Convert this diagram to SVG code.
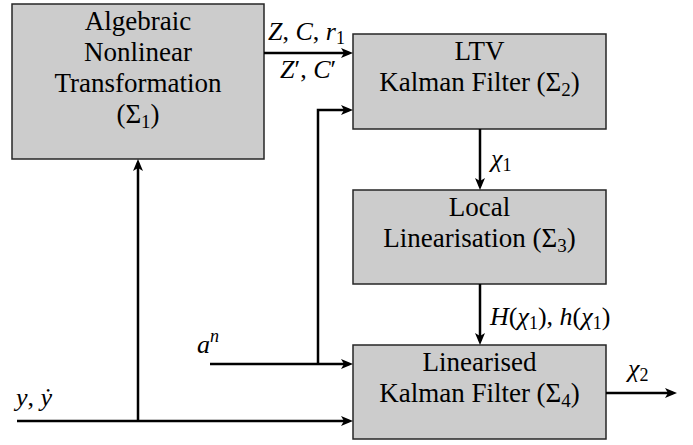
<svg xmlns="http://www.w3.org/2000/svg" width="693" height="445" viewBox="0 0 693 445">
<style>
.box{fill:#cccccc;stroke:#262626;stroke-width:1.5}
.t{font-family:"Liberation Serif","Times New Roman",serif;font-size:27px;fill:#000;text-anchor:middle}
.m{font-family:"Liberation Serif","Times New Roman",serif;font-size:26px;fill:#000;font-style:italic}
.up{font-style:normal}
.c{fill:none;stroke:#000;stroke-width:2.5}
</style>
<defs>
<marker id="ah" viewBox="0 -5 12 10" refX="8" refY="0" markerWidth="12" markerHeight="10" markerUnits="userSpaceOnUse" orient="auto">
<path d="M0,-5 L12,0 L0,5 L3,0 z" fill="#000"/>
</marker>
</defs>
<g id="sigma1">
<rect class="box" x="12" y="4" width="252" height="155"/>
<text class="t" x="138" y="30">Algebraic</text>
<text class="t" x="138" y="61">Nonlinear</text>
<text class="t" x="138" y="92">Transformation</text>
<text class="t" x="138" y="123">(Σ<tspan font-size="19" dy="5">1</tspan><tspan dy="-5">)</tspan></text>
</g>
<g id="sigma2">
<rect class="box" x="353" y="34" width="253" height="95"/>
<text class="t" x="479.5" y="60">LTV</text>
<text class="t" x="479.5" y="91">Kalman Filter (Σ<tspan font-size="19" dy="5">2</tspan><tspan dy="-5">)</tspan></text>
</g>
<g id="sigma3">
<rect class="box" x="353" y="190" width="253" height="94"/>
<text class="t" x="479.5" y="216">Local</text>
<text class="t" x="479.5" y="247">Linearisation (Σ<tspan font-size="19" dy="5">3</tspan><tspan dy="-5">)</tspan></text>
</g>
<g id="sigma4">
<rect class="box" x="353" y="345" width="253" height="94"/>
<text class="t" x="479.5" y="371">Linearised</text>
<text class="t" x="479.5" y="402">Kalman Filter (Σ<tspan font-size="19" dy="5">4</tspan><tspan dy="-5">)</tspan></text>
</g>
<g id="connectors">
<path class="c" d="M264,53 H349" marker-end="url(#ah)"/>
<path class="c" d="M210,364 H349" marker-end="url(#ah)"/>
<path class="c" d="M318,364 V110 H349" marker-end="url(#ah)"/>
<path class="c" d="M17,421 H349" marker-end="url(#ah)"/>
<path class="c" d="M138,421 V163" marker-end="url(#ah)"/>
<path class="c" d="M480,129 V186" marker-end="url(#ah)"/>
<path class="c" d="M480,284 V341" marker-end="url(#ah)"/>
<path class="c" d="M606,393 H673" marker-end="url(#ah)"/>
</g>
<g id="labels">
<text class="m" x="268" y="40">Z<tspan class="up">, </tspan>C<tspan class="up">, </tspan>r<tspan class="up" font-size="18" dy="4">1</tspan></text>
<text class="m" x="280" y="78">Z<tspan class="up">′, </tspan>C<tspan class="up">′</tspan></text>
<text class="m" x="491" y="167">χ<tspan class="up" font-size="18" dy="4">1</tspan></text>
<text class="m" x="490" y="325">H<tspan class="up">(</tspan>χ<tspan class="up" font-size="18" dy="4">1</tspan><tspan class="up" dy="-4">), </tspan>h<tspan class="up">(</tspan>χ<tspan class="up" font-size="18" dy="4">1</tspan><tspan class="up" dy="-4">)</tspan></text>
<text class="m" x="197" y="353">a<tspan font-size="18" dy="-11">n</tspan></text>
<text class="m" x="16" y="406">y<tspan class="up">, </tspan>ẏ</text>
<text class="m" x="628" y="377">χ<tspan class="up" font-size="18" dy="4">2</tspan></text>
</g>
</svg>
